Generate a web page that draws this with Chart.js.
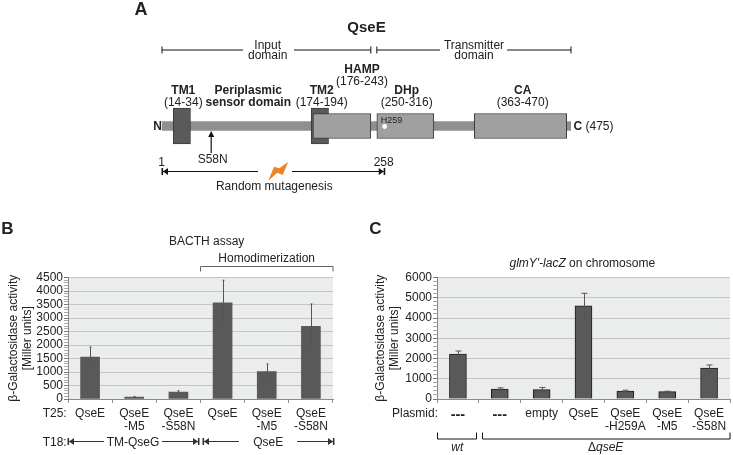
<!doctype html>
<html>

<head>
	<title>QseE</title>
	<script src="https://cdn.jsdelivr.net/npm/chart.js@4"></script>
	<style>
		body { margin: 0; background: #fff; overflow: hidden; font-family: "Liberation Sans", Arial, sans-serif; color: #222; }
		canvas { position: absolute; }
		.lbl { position: absolute; white-space: nowrap; font-size: 12px; line-height: 12px; }
	</style>
</head>

<body>
	<canvas id="chartA" width="733" height="215" style="left:0;top:0"></canvas>
	<canvas id="chartB" width="345" height="240" style="left:0;top:215px"></canvas>
	<canvas id="chartC" width="373" height="240" style="left:360px;top:215px"></canvas>
	<div id="labels"></div>
	<script>
		// panel A, residue numbers along QseE
		var proteinRange = [1, 475];
		var tmNames = ['TM1', 'TM2'];
		var tmRanges = [[14, 34], [174, 194]];
		var domainNames = ['HAMP', 'DHp', 'CA'];
		var domainRanges = [[176, 243], [250, 316], [363, 470]];
		var inputDomain = [1, 243];
		var transmitterDomain = [250, 475];
		var mutagenesisRange = [1, 258];
		var activeSite = 259;
		var s58n = 58;

		// panel B
		var bLabels = ['QseE', ['QseE', '-M5'], ['QseE', '-S58N'], 'QseE', ['QseE', '-M5'], ['QseE', '-S58N']];
		var bValues = [1550, 75, 258, 3565, 1020, 2695];
		var bErrors = [375, 20, 50, 835, 280, 825];

		// panel C
		var cLabels = ['---', '---', 'empty', 'QseE', ['QseE', '-H259A'], ['QseE', '-M5'], ['QseE', '-S58N']];
		var cValues = [2220, 490, 460, 4600, 395, 362, 1530];
		var cErrors = [150, 60, 110, 620, 40, 20, 150];

		var FONT = '"Liberation Sans", Arial, sans-serif';
		Chart.defaults.font.family = FONT;
		Chart.defaults.color = '#222';

		function label(html, x, y, opts) {
			opts = opts || {};
			var d = document.createElement('div');
			d.className = 'lbl';
			d.innerHTML = html;
			d.style.left = x + 'px';
			d.style.top = y + 'px';
			d.style.transform = opts.align == 'left' ? 'translateY(-50%)' : opts.align == 'right' ? 'translate(-100%,-50%)' : 'translate(-50%,-50%)';
			if (opts.bold) d.style.fontWeight = 'bold';
			if (opts.size) d.style.fontSize = opts.size + 'px';
			document.getElementById('labels').appendChild(d);
		}

		function line(ctx, x0, y0, x1, y1, color, width) {
			ctx.strokeStyle = color || '#111';
			ctx.lineWidth = width || 1;
			ctx.beginPath();
			ctx.moveTo(x0, y0);
			ctx.lineTo(x1, y1);
			ctx.stroke();
		}

		function head(ctx, x, y, dir, color) {
			// small arrow head with a stop bar behind the tip
			ctx.fillStyle = color;
			ctx.beginPath();
			ctx.moveTo(x, y);
			ctx.lineTo(x - dir * 5, y - 3.5);
			ctx.lineTo(x - dir * 5, y + 3.5);
			ctx.closePath();
			ctx.fill();
			line(ctx, x + dir * 0.7, y - 3.5, x + dir * 0.7, y + 3.5, color, 1.6);
		}

		function gappedArrow(ctx, x0, x1, y, gap0, gap1, color) {
			line(ctx, x0, y, gap0, y, color, 1);
			line(ctx, gap1, y, x1, y, color, 1);
			head(ctx, x0, y, -1, color);
			head(ctx, x1, y, 1, color);
		}

		function bracket(ctx, x0, x1, y, gap0, gap1) {
			line(ctx, x0, y - 3.5, x0, y + 3.5);
			line(ctx, x1, y - 3.5, x1, y + 3.5);
			line(ctx, x0, y, gap0, y);
			line(ctx, gap1, y, x1, y);
		}

		// annotations for the domain map, placed through the residue scale
		var mapPlugin = {
			id: 'map',
			afterDraw: function(chart) {
				var ctx = chart.ctx;
				var x = chart.scales.x;
				var px = function(r) { return x.getPixelForValue(r); };
				ctx.save();
				bracket(ctx, px(inputDomain[0]), px(inputDomain[1]), 50, 243, 294);
				bracket(ctx, px(transmitterDomain[0]), px(transmitterDomain[1]), 50, 440, 507);

				ctx.fillStyle = '#fff';
				ctx.beginPath();
				ctx.arc(px(activeSite), 126.5, 2.4, 0, Math.PI * 2);
				ctx.fill();

				// S58N arrow
				line(ctx, px(s58n), 153, px(s58n), 136, '#111', 1.2);
				ctx.fillStyle = '#111';
				ctx.beginPath();
				ctx.moveTo(px(s58n), 131);
				ctx.lineTo(px(s58n) - 3, 137);
				ctx.lineTo(px(s58n) + 3, 137);
				ctx.closePath();
				ctx.fill();

				gappedArrow(ctx, px(mutagenesisRange[0]) + 1, px(mutagenesisRange[1]), 171.5, 258, 292, '#111');

				// lightning
				ctx.fillStyle = '#e8872a';
				ctx.beginPath();
				ctx.moveTo(268.3, 180.7);
				ctx.lineTo(274, 166.7);
				ctx.lineTo(279.3, 168.3);
				ctx.lineTo(288.3, 161.7);
				ctx.lineTo(282.7, 175);
				ctx.lineTo(277.3, 172.7);
				ctx.closePath();
				ctx.fill();
				ctx.restore();
			}
		};

		var plotPlugin = {
			id: 'plot',
			beforeDraw: function(chart) {
				var a = chart.chartArea;
				chart.ctx.fillStyle = '#ebecec';
				chart.ctx.fillRect(a.left, a.top, a.right - a.left, a.bottom - a.top);
			},
			afterDatasetsDraw: function(chart, args, opts) {
				var ctx = chart.ctx;
				var meta = chart.getDatasetMeta(0);
				var y = chart.scales.y;
				opts.errors.forEach(function(e, i) {
					var v = chart.data.datasets[0].data[i];
					var x0 = Math.round(meta.data[i].x) + 0.5;
					var top = y.getPixelForValue(v + e);
					var bot = y.getPixelForValue(v - e);
					line(ctx, x0, top, x0, bot, '#555', 1);
					line(ctx, x0 - opts.cap, top, x0 + opts.cap, top, '#555', 1);
					line(ctx, x0 - opts.cap, bot, x0 + opts.cap, bot, '#555', 1);
				});
			}
		};

		var bracketPlugin = {
			id: 'extras',
			afterDraw: function(chart, args, opts) {
				if (opts.draw) opts.draw(chart.ctx);
			}
		};

		var domainDatasets = [{ data: [[proteinRange[0], proteinRange[1]]], backgroundColor: '#8f8f8f', barThickness: 9, order: 3, grouped: false, label: 'QseE' }];
		tmNames.forEach(function(n, i) {
			domainDatasets.push({ data: [tmRanges[i]], backgroundColor: '#5a5a5a', borderColor: '#3c3c3c', borderWidth: 1, borderSkipped: false, barThickness: 36, order: 2, grouped: false, label: n });
		});
		domainNames.forEach(function(n, i) {
			domainDatasets.push({ data: [domainRanges[i]], backgroundColor: '#a0a0a0', borderColor: '#3c3c3c', borderWidth: 1, borderSkipped: false, barThickness: 25, order: 1, grouped: false, label: n });
		});

		new Chart(document.getElementById('chartA').getContext('2d'), {
			type: 'bar',
			data: { labels: ['QseE'], datasets: domainDatasets },
			options: {
				indexAxis: 'y',
				responsive: false,
				animation: false,
				layout: { padding: { left: 162, right: 162, top: 100, bottom: 63 } },
				plugins: { legend: { display: false }, tooltip: { enabled: false } },
				scales: {
					x: { type: 'linear', display: false, min: proteinRange[0], max: proteinRange[1] },
					y: { display: false }
				}
			},
			plugins: [mapPlugin]
		});

		function barChart(id, labels, values, errors, opts) {
			return new Chart(document.getElementById(id).getContext('2d'), {
				type: 'bar',
				data: {
					labels: labels,
					datasets: [{
						data: values,
						backgroundColor: '#595959',
						borderColor: opts.barBorder,
						borderWidth: opts.barBorder ? 1 : 0,
						barThickness: opts.barWidth
					}]
				},
				options: {
					responsive: false,
					animation: false,
					layout: { padding: { left: 0, right: opts.right, top: 62.5, bottom: 0 } },
					plugins: {
						legend: { display: false },
						tooltip: { enabled: false },
						plot: { errors: errors, cap: opts.cap },
						extras: { draw: opts.draw }
					},
					scales: {
						x: {
							afterFit: function(s) { s.height = 56; },
							border: { color: '#8a8a8a' },
							grid: { offset: true, drawOnChartArea: false, color: '#8a8a8a', tickLength: 4 },
							ticks: {
								maxRotation: 0,
								autoSkip: false,
								padding: 5,
								font: function(c) {
									var isDash = opts.boldFirst && c.index < opts.boldFirst;
									return { size: isDash ? 14.5 : 12, lineHeight: 1.02, weight: isDash ? 'bold' : 'normal' };
								}
							}
						},
						y: {
							min: 0,
							max: opts.max,
							afterFit: function(s) { s.width = opts.left; },
							border: { color: '#8a8a8a' },
							grid: {
								color: function(c) { return c.tick.value % opts.major ? 'rgba(0,0,0,0)' : '#c4c4c4'; },
								tickColor: function(c) { return c.tick.value % opts.major ? '#a8a8a8' : '#777'; },
								tickLength: 4
							},
							ticks: {
								stepSize: opts.minor,
								autoSkip: false,
								padding: 1,
								font: { size: 12 },
								callback: function(v) { return v % opts.major ? '' : v; }
							},
							title: {
								display: true,
								text: ['\u03b2-Galactosidase activity', '[Miller units]'],
								font: { size: 12, lineHeight: 1.2 },
								padding: { top: opts.titlePad, bottom: 0 }
							}
						}
					}
				},
				plugins: [plotPlugin, bracketPlugin]
			});
		}

		barChart('chartB', bLabels, bValues, bErrors, {
			max: 4500, major: 500, minor: 100, left: 68, right: 12, barWidth: 19, cap: 1, titlePad: 6,
			draw: function(ctx) {
				// homodimerization bracket
				ctx.strokeStyle = '#666';
				ctx.lineWidth = 1;
				ctx.beginPath();
				ctx.moveTo(200.5, 56.5);
				ctx.lineTo(200.5, 51.5);
				ctx.lineTo(333, 51.5);
				ctx.lineTo(333, 56.5);
				ctx.stroke();
				gappedArrow(ctx, 69, 198, 226.5, 104, 162, '#333');
				gappedArrow(ctx, 204, 333, 226.5, 239, 297, '#333');
			}
		});

		barChart('chartC', cLabels, cValues, cErrors, {
			max: 6000, major: 1000, minor: 200, left: 77, right: 3, barWidth: 17, barBorder: '#1c1c1c', cap: 3, titlePad: 13, boldFirst: 2,
			draw: function(ctx) {
				ctx.strokeStyle = '#111';
				ctx.lineWidth = 1;
				[[77.5, 116.5], [122.5, 370]].forEach(function(b) {
					ctx.beginPath();
					ctx.moveTo(b[0], 217.5);
					ctx.lineTo(b[0], 224);
					ctx.lineTo(b[1], 224);
					ctx.lineTo(b[1], 217.5);
					ctx.stroke();
				});
			}
		});

		// panel A text
		label('A', 141, 9, { bold: true, size: 18 });
		label('QseE', 366.5, 27, { bold: true, size: 15 });
		label('Input', 267.7, 44.5);
		label('domain', 267.7, 55);
		label('Transmitter', 474, 44.5);
		label('domain', 474, 55);
		label('HAMP', 362, 68.5, { bold: true });
		label('(176-243)', 362, 81);
		label('TM1', 183.3, 89.5, { bold: true });
		label('(14-34)', 183.3, 101.7);
		label('Periplasmic', 248.3, 89.5, { bold: true });
		label('sensor domain', 248.3, 101.5, { bold: true });
		label('TM2', 321.7, 89.5, { bold: true });
		label('(174-194)', 321.7, 101.7);
		label('DHp', 406.7, 89.5, { bold: true });
		label('(250-316)', 406.7, 101.7);
		label('CA', 522.7, 89.5, { bold: true });
		label('(363-470)', 522.7, 101.7);
		label('N', 157.7, 126, { bold: true });
		label('<b>C</b> (475)', 573.5, 126, { align: 'left' });
		label('H259', 380.7, 120, { align: 'left', size: 9 });
		label('S58N', 212.7, 159);
		label('1', 161.7, 161.7);
		label('258', 383.7, 161.7);
		label('Random mutagenesis', 274.3, 185.7);

		// panel B text
		label('B', 7.5, 229, { bold: true, size: 17 });
		label('BACTH assay', 206.7, 241);
		label('Homodimerization', 266.7, 258.3);
		label('T25:', 42.7, 412.7, { align: 'left' });
		label('T18:', 42.7, 441.7, { align: 'left' });
		label('TM-QseG', 133, 441.7);
		label('QseE', 268.3, 441.7);

		// panel C text
		label('C', 375.5, 229, { bold: true, size: 17 });
		label('<i>glmY\'-lacZ</i> on chromosome', 582.3, 262.7);
		label('Plasmid:', 438, 412.7, { align: 'right' });
		label('<i>wt</i>', 457.3, 447.3);
		label('\u0394<i>qseE</i>', 605.7, 447.3);
	</script>
</body>

</html>
